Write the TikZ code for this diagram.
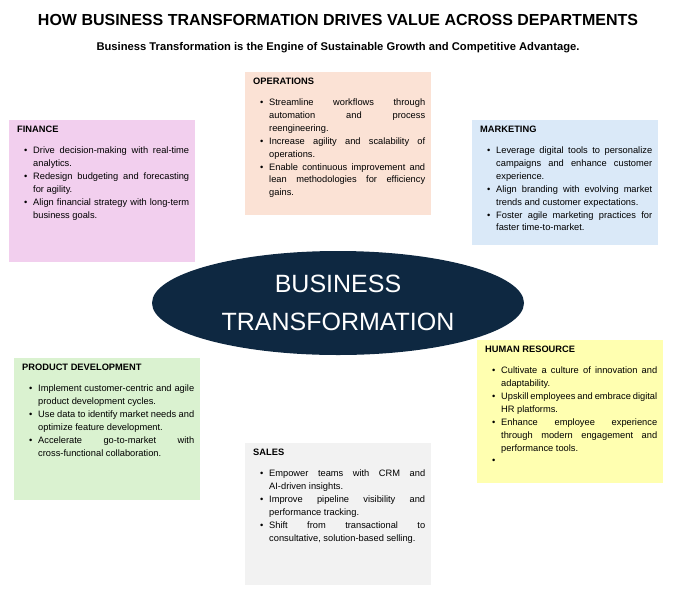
\documentclass[tikz,border=0pt]{standalone}
\usepackage{fontspec}
\setmainfont{Liberation Sans}
\usetikzlibrary{positioning,shapes.geometric}
\definecolor{navy}{HTML}{0E2841}
\definecolor{finpink}{HTML}{F2CFEE}
\definecolor{oppeach}{HTML}{FBE2D5}
\definecolor{mktblue}{HTML}{DAE9F8}
\definecolor{pdgreen}{HTML}{DAF2D0}
\definecolor{hryellow}{HTML}{FFFFB0}
\definecolor{slgrey}{HTML}{F2F2F2}
\newcommand\itm[1]{\hangindent=9pt\hangafter=1\noindent\makebox[9pt][l]{\textbullet}#1\par}
\newcommand\hdr[1]{\noindent\hspace*{-7pt}{\bfseries #1}\par\vspace{8pt}}
\begin{document}
\begin{tikzpicture}[x=1pt,y=-1pt,
    deptbox/.style = {rectangle, anchor=north west, minimum width=186pt, inner sep=0pt},
    dept/.style = {anchor=north west, text width=172pt, inner sep=0pt, align=justify,
                   execute at begin node={\leftskip=7pt\hyphenpenalty=10000\exhyphenpenalty=10000},
                   font=\fontsize{9.3}{12.9}\selectfont}
                   ]
\useasboundingbox (0,0) rectangle (677,611);
\node (title) at (338,20) {\fontsize{16}{18}\selectfont\bfseries HOW BUSINESS TRANSFORMATION DRIVES VALUE ACROSS DEPARTMENTS};
\node (sub)   at (338,48) {\fontsize{11.2}{13}\selectfont\bfseries Business Transformation is the Engine of Sustainable Growth and Competitive Advantage.};
\node (core) [ellipse, fill=navy, minimum width=372pt, minimum height=104pt, text=white, align=center,
              font=\fontsize{25}{38}\selectfont] at (338,303) {BUSINESS\\TRANSFORMATION};
% department boxes
\node (finbox) [deptbox, fill=finpink, minimum height=142pt] at (9,120) {};
\node (opsbox) [deptbox, fill=oppeach, minimum height=143pt] at (245,72) {};
\node (mktbox) [deptbox, fill=mktblue, minimum height=125pt] at (472,120) {};
\node (pdbox)  [deptbox, fill=pdgreen, minimum height=142pt] at (14,358) {};
\node (hrbox)  [deptbox, fill=hryellow, minimum height=143pt] at (477,340) {};
\node (slbox)  [deptbox, fill=slgrey, minimum height=142pt] at (245,443) {};
% texts
\node (fin) [dept] at ([xshift=8pt,yshift=-6pt]finbox.north west) {\hdr{FINANCE}
  \itm{Drive decision-making with real-time analytics.}
  \itm{Redesign budgeting and forecasting for agility.}
  \itm{Align financial strategy with long-term business goals.}};
\node (ops) [dept] at ([xshift=8pt,yshift=-6pt]opsbox.north west) {\hdr{OPERATIONS}
  \itm{Streamline workflows through automation and process reengineering.}
  \itm{Increase agility and scalability of operations.}
  \itm{Enable continuous improvement and lean methodologies for efficiency gains.}};
\node (mkt) [dept] at ([xshift=8pt,yshift=-6pt]mktbox.north west) {\hdr{MARKETING}
  \itm{Leverage digital tools to personalize campaigns and enhance customer experience.}
  \itm{Align branding with evolving market trends and customer expectations.}
  \itm{Foster agile marketing practices for faster time-to-market.}};
\node (pd) [dept] at ([xshift=8pt,yshift=-6pt]pdbox.north west) {\hdr{PRODUCT DEVELOPMENT}
  \itm{Implement customer-centric and agile product development cycles.}
  \itm{Use data to identify market needs and optimize feature development.}
  \itm{Accelerate go-to-market with cross-functional collaboration.}};
\node (hr) [dept] at ([xshift=8pt,yshift=-6pt]hrbox.north west) {\hdr{HUMAN RESOURCE}
  \itm{Cultivate a culture of innovation and adaptability.}
  \itm{Upskill employees and embrace digital HR platforms.}
  \itm{Enhance employee experience through modern engagement and performance tools.}
  \itm{\mbox{}}};
\node (sales) [dept] at ([xshift=8pt,yshift=-6pt]slbox.north west) {\hdr{SALES}
  \itm{Empower teams with CRM and AI-driven insights.}
  \itm{Improve pipeline visibility and performance tracking.}
  \itm{Shift from transactional to consultative, solution-based selling.}};
\end{tikzpicture}
\end{document}
